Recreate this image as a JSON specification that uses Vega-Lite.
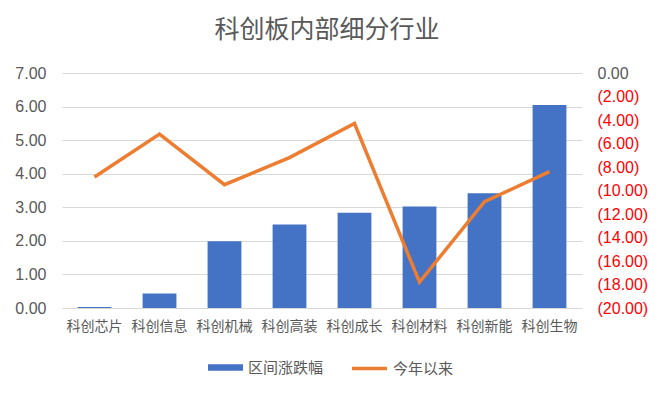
{
  "$schema": "https://vega.github.io/schema/vega-lite/v6.json",
  "width": 520,
  "height": 235,
  "autosize": {"type": "none"},
  "padding": {"left": 62, "top": 73, "right": 78, "bottom": 88},
  "background": "white",
  "title": {
    "text": "科创板内部细分行业",
    "fontSize": 25,
    "font": "Noto Sans CJK SC",
    "fontWeight": "normal",
    "color": "#595959",
    "anchor": "middle",
    "offset": 22,
    "dx": 5
  },
  "config": {
    "view": {"stroke": null},
    "font": "Noto Sans CJK SC",
    "axis": {"labelFont": "Noto Sans CJK SC", "labelColor": "#595959", "labelFontSize": 13}
  },
  "data": {
    "values": [
      {"cat": "科创芯片", "range": 0.03, "ytd": -8.85},
      {"cat": "科创信息", "range": 0.43, "ytd": -5.2},
      {"cat": "科创机械", "range": 1.99, "ytd": -9.5},
      {"cat": "科创高装", "range": 2.49, "ytd": -7.2},
      {"cat": "科创成长", "range": 2.84, "ytd": -4.3},
      {"cat": "科创材料", "range": 3.02, "ytd": -17.8},
      {"cat": "科创新能", "range": 3.42, "ytd": -10.95},
      {"cat": "科创生物", "range": 6.05, "ytd": -8.4}
    ]
  },
  "encoding": {
    "x": {
      "field": "cat",
      "type": "nominal",
      "sort": null,
      "scale": {"paddingInner": 0.48, "paddingOuter": 0.24},
      "axis": {
        "title": null,
        "labelAngle": 0,
        "ticks": false,
        "domainColor": "#d9d9d9",
        "labelPadding": 11,
        "labelFontSize": 14
      }
    }
  },
  "layer": [
    {
      "mark": {"type": "bar"},
      "encoding": {
        "y": {
          "field": "range",
          "type": "quantitative",
          "scale": {"domain": [0, 7], "nice": false},
          "axis": {
            "title": null,
            "values": [0, 1, 2, 3, 4, 5, 6, 7],
            "format": ".2f",
            "grid": true,
            "gridColor": "#d9d9d9",
            "domain": false,
            "ticks": false,
            "labelPadding": 16,
            "labelFont": "Liberation Sans",
            "labelFontSize": 16
          }
        },
        "fill": {
          "datum": "区间涨跌幅",
          "scale": {"domain": ["区间涨跌幅"], "range": ["#4472C4"]},
          "legend": {
            "title": null,
            "orient": "none",
            "legendX": 145,
            "legendY": 276,
            "symbolType": "M-1,-0.18H1V0.18H-1Z",
            "symbolSize": 1225,
            "labelFontSize": 15,
            "labelColor": "#595959",
            "labelFont": "Noto Sans CJK SC"
          }
        }
      }
    },
    {
      "mark": {"type": "line", "strokeWidth": 3.5, "strokeJoin": "miter"},
      "encoding": {
        "y": {
          "field": "ytd",
          "type": "quantitative",
          "scale": {"domain": [-20, 0], "nice": false},
          "axis": {
            "title": null,
            "orient": "right",
            "values": [0, -2, -4, -6, -8, -10, -12, -14, -16, -18, -20],
            "labelExpr": "datum.value < 0 ? '(' + format(-datum.value, '.2f') + ')' : format(datum.value, '.2f')",
            "labelColor": {"condition": {"test": "datum.value < 0", "value": "#FF0000"}, "value": "#595959"},
            "grid": false,
            "domain": false,
            "ticks": false,
            "labelPadding": 15,
            "labelFont": "Liberation Sans",
            "labelFontSize": 16
          }
        },
        "stroke": {
          "datum": "今年以来",
          "scale": {"domain": ["今年以来"], "range": ["#ED7D31"]},
          "legend": {
            "title": null,
            "orient": "none",
            "legendX": 288,
            "legendY": 276,
            "symbolType": "stroke",
            "symbolSize": 1225,
            "symbolStrokeWidth": 3.5,
            "labelFontSize": 15,
            "labelColor": "#595959",
            "labelFont": "Noto Sans CJK SC"
          }
        }
      }
    }
  ],
  "resolve": {"scale": {"y": "independent"}}
}
